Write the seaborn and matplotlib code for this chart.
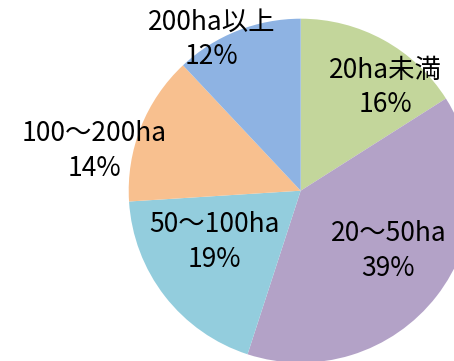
import matplotlib
matplotlib.use("Agg")
import matplotlib.pyplot as plt
import seaborn as sns

sns.set_theme(style="white")
plt.rcParams['font.family'] = ['Noto Sans CJK JP', 'DejaVu Sans']

# Farm size classes and their shares (%)
categories = ["20ha未満", "20～50ha", "50～100ha", "100～200ha", "200ha以上"]
shares = [16, 39, 19, 14, 12]
colors = ["#C3D69B", "#B3A2C7", "#93CDDD", "#F8C08F", "#8EB3E3"]

# Label centres in pie coordinates (radius = 1)
label_xy = [(0.49, 0.60), (0.51, -0.35), (-0.50, -0.30), (-1.20, 0.23), (-0.52, 0.88)]

fig = plt.figure(figsize=(4.54, 3.61), dpi=100)
cx, cy, r = 300.7, 361 - 190.7, 172.0
ax = fig.add_axes([(cx - r) / 454, (cy - r) / 361, 2 * r / 454, 2 * r / 361])

wedges, _ = ax.pie(shares, colors=colors, startangle=90, counterclock=False,
                   radius=1.0, wedgeprops=dict(linewidth=0))
for w in wedges:
    w.set_clip_on(False)

for name, val, (x, y) in zip(categories, shares, label_xy):
    ax.text(x, y, f"{name}\n{val}%", ha="center", va="center",
            fontsize=19, color="black", linespacing=1.38)

ax.set_xlim(-1, 1)
ax.set_ylim(-1, 1)
ax.set_aspect("equal")
ax.axis("off")

fig.savefig("out.png", dpi=100)
